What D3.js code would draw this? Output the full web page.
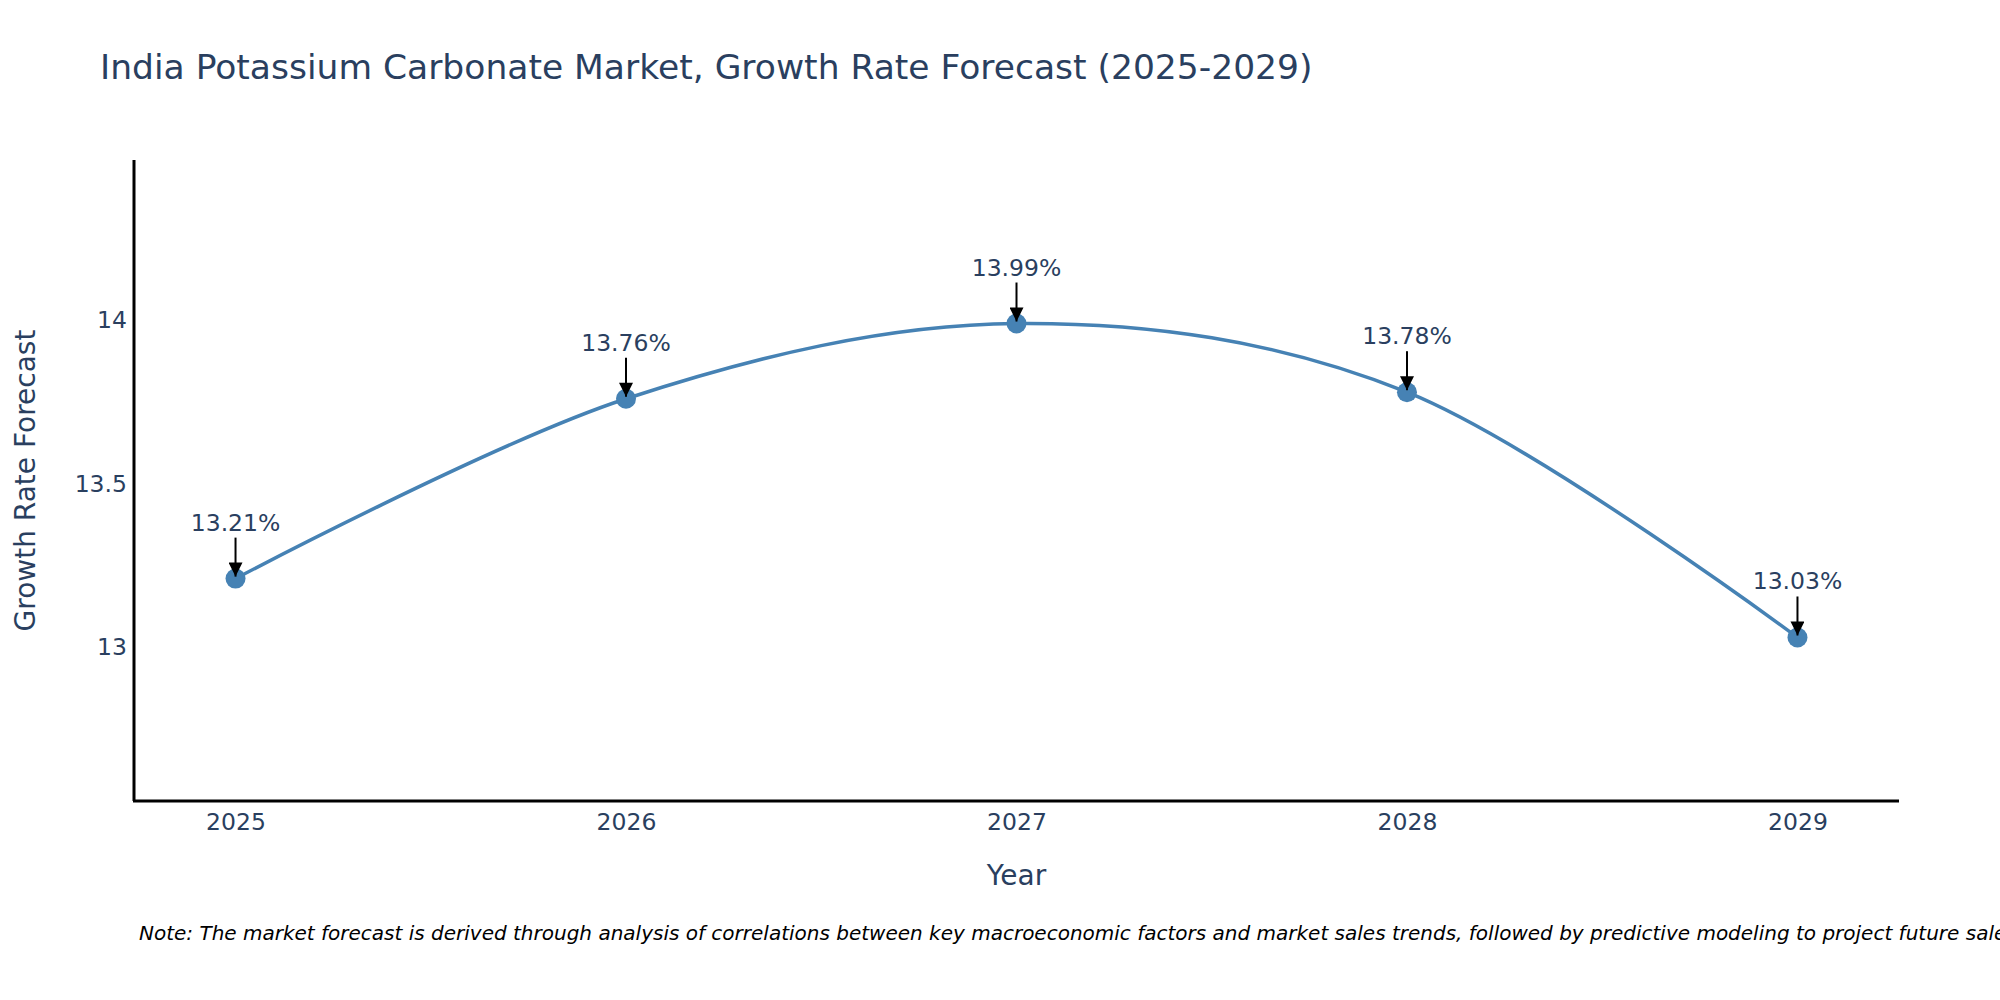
<!DOCTYPE html>
<html>
<head>
<meta charset="utf-8">
<script src="https://cdn.jsdelivr.net/npm/d3@7"></script>
<style>
  html, body { margin: 0; padding: 0; background: #fff; overflow: hidden; }
  svg { display: block; font-family: "DejaVu Sans", Verdana, sans-serif; }
</style>
</head>
<body>
<div id="chart"></div>
<script>
// chart values
const YEARS = [2025, 2026, 2027, 2028, 2029];
const GROWTH = [13.21, 13.76, 13.99, 13.78, 13.03];
const Y_TICKS = [13, 13.5, 14];
const TITLE = "India Potassium Carbonate Market, Growth Rate Forecast (2025-2029)";
const NOTE = "Note: The market forecast is derived through analysis of correlations between key macroeconomic factors and market sales trends, followed by predictive modeling to project future sales.";

(function() {
    const COLORS = {
        text: "#2a3f5f",
        axis: "#000000",
        line: "#4682b4"
    };

    const W = 2000, H = 1000;
    const margin = { top: 160, right: 101, bottom: 199, left: 134 };
    const width = W - margin.left - margin.right;
    const height = H - margin.top - margin.bottom;

    const data = YEARS.map((year, i) => ({ year, value: GROWTH[i] }));

    const svg = d3.select("#chart").append("svg")
        .attr("width", W)
        .attr("height", H)
        .attr("viewBox", `0 0 ${W} ${H}`);

    svg.append("rect").attr("width", W).attr("height", H).attr("fill", "#fff");

    const defs = svg.append("defs");
    defs.append("marker")
        .attr("id", "arrowhead")
        .attr("viewBox", "0 0 10 10")
        .attr("refX", 10)
        .attr("refY", 5)
        .attr("markerUnits", "userSpaceOnUse")
        .attr("markerWidth", 15)
        .attr("markerHeight", 14)
        .attr("orient", "auto")
        .append("path")
        .attr("d", "M0,0 L10,5 L0,10 Z")
        .attr("fill", COLORS.axis);

    // title
    svg.append("text")
        .attr("x", 100)
        .attr("y", 79)
        .attr("fill", COLORS.text)
        .style("font-size", "34.5px")
        .text(TITLE);

    const g = svg.append("g")
        .attr("transform", `translate(${margin.left},${margin.top})`);

    // ranges padded like the source (min - 0.5, max + 0.5)
    const x = d3.scaleLinear()
        .domain([2024.74, 2029.26])
        .range([0, width]);

    const y = d3.scaleLinear()
        .domain([d3.min(GROWTH) - 0.5, d3.max(GROWTH) + 0.5])
        .range([height, 0]);

    // X-AXIS
    const xAxis = g.append("g")
        .attr("transform", `translate(0,${height})`)
        .call(d3.axisBottom(x).tickValues(YEARS).tickFormat(d3.format("d")).tickSize(0).tickPadding(12));
    xAxis.select(".domain").attr("stroke", COLORS.axis).attr("stroke-width", 3).attr("d", `M-1,0H${width}`);
    xAxis.selectAll("text")
        .attr("fill", COLORS.text)
        .style("font-size", "23.5px")
        .style("font-family", "DejaVu Sans, Verdana, sans-serif");

    // Y-AXIS
    const yAxis = g.append("g")
        .call(d3.axisLeft(y).tickValues(Y_TICKS).tickFormat(d => d).tickSize(0).tickPadding(7));
    yAxis.select(".domain").attr("stroke", COLORS.axis).attr("stroke-width", 3).attr("d", `M0,0V${height}`);
    yAxis.selectAll("text")
        .attr("fill", COLORS.text)
        .style("font-size", "23.5px")
        .style("font-family", "DejaVu Sans, Verdana, sans-serif");

    // axis titles
    svg.append("text")
        .attr("x", margin.left + width / 2)
        .attr("y", 885)
        .attr("text-anchor", "middle")
        .attr("fill", COLORS.text)
        .style("font-size", "28px")
        .text("Year");

    svg.append("text")
        .attr("transform", `translate(35,${margin.top + height / 2}) rotate(-90)`)
        .attr("text-anchor", "middle")
        .attr("fill", COLORS.text)
        .style("font-size", "28px")
        .text("Growth Rate Forecast");

    // spline line
    const line = d3.line()
        .x(d => x(d.year))
        .y(d => y(d.value))
        .curve(d3.curveCardinal.tension(0));

    g.append("path")
        .datum(data)
        .attr("fill", "none")
        .attr("stroke", COLORS.line)
        .attr("stroke-width", 3.5)
        .attr("d", line);

    g.selectAll("circle.pt")
        .data(data)
        .join("circle")
        .attr("class", "pt")
        .attr("cx", d => x(d.year))
        .attr("cy", d => y(d.value))
        .attr("r", 10)
        .attr("fill", COLORS.line);

    // annotations with arrows
    const ann = g.selectAll("g.ann")
        .data(data)
        .join("g")
        .attr("class", "ann")
        .attr("transform", d => `translate(${x(d.year)},${y(d.value)})`);

    ann.append("line")
        .attr("x1", 0).attr("y1", -41)
        .attr("x2", 0).attr("y2", -2)
        .attr("stroke", COLORS.axis)
        .attr("stroke-width", 2)
        .attr("marker-end", "url(#arrowhead)");

    ann.append("text")
        .attr("x", 0)
        .attr("y", -48)
        .attr("text-anchor", "middle")
        .attr("fill", COLORS.text)
        .style("font-size", "23.5px")
        .text(d => d.value.toFixed(2) + "%");

    // note
    svg.append("text")
        .attr("x", 139)
        .attr("y", 940)
        .attr("fill", "#000")
        .style("font-size", "20px")
        .style("font-style", "italic")
        .text(NOTE);
})();
</script>
</body>
</html>
